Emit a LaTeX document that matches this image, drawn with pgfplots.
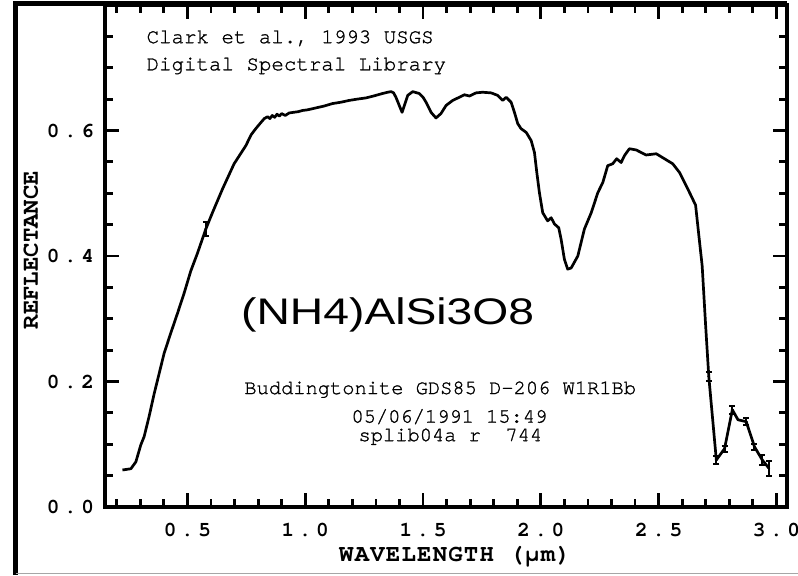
\documentclass[border=0pt]{standalone}
\usepackage{fontspec}
\setmonofont{TeX Gyre Cursor}
\newfontfamily\ticfont[LetterSpace=22]{TeX Gyre Cursor}
\newfontfamily\labfont[LetterSpace=5]{TeX Gyre Cursor}
\newfontfamily\annfont[FakeBold=1.2]{TeX Gyre Cursor}
\newfontfamily\bigfont{Liberation Sans}
\usepackage{pgfplots}
\pgfplotsset{compat=1.18}

\begin{document}
\begin{tikzpicture}
\path[use as bounding box] (-52.5pt,-34pt) rectangle (346.5pt,253.5pt);
\begin{axis}[
    at={(0,0)}, anchor=south west,
    scale only axis, width=341pt, height=251pt,
    xmin=0.15, xmax=3.045, ymin=0, ymax=0.8,
    xtick={0.5,1.0,1.5,2.0,2.5,3.0},
    xticklabels={0.5,1.0,1.5,2.0,2.5,3.0},
    ytick={0,0.2,0.4,0.6},
    yticklabels={0.0,0.2,0.4,0.6},
    minor xtick={0.2,0.3,...,3.0},
    minor ytick={0.05,0.1,...,0.8},
    major tick length=7pt, minor tick length=3.8pt,
    every tick/.style={black, line width=1.4pt},
    axis line style={line width=1.6pt},
    ticklabel style={font=\ticfont\bfseries\fontsize{10.5}{12}\selectfont},
    xticklabel style={yshift=-4.5pt},
    yticklabel style={xshift=-2pt},
    clip=false,
]
% spectrum
\addplot[black, line width=1.35pt, line join=round] coordinates {
(0.224,0.059) (0.26,0.061) (0.281,0.072) (0.302,0.099) (0.316,0.112) (0.337,0.144)
(0.359,0.181) (0.380,0.213) (0.401,0.245) (0.429,0.277) (0.458,0.309) (0.486,0.341)
(0.514,0.376) (0.543,0.405) (0.578,0.443) (0.606,0.469) (0.649,0.507) (0.698,0.547)
(0.748,0.576) (0.77,0.593) (0.79,0.603) (0.81,0.612) (0.826,0.619) (0.84,0.622)
(0.85,0.619) (0.86,0.624) (0.87,0.621) (0.88,0.626) (0.89,0.623) (0.90,0.627)
(0.915,0.624) (0.932,0.628) (0.95,0.629) (0.97,0.630) (0.989,0.632) (1.01,0.633)
(1.045,0.636) (1.08,0.639) (1.116,0.643) (1.15,0.645) (1.187,0.648) (1.22,0.650)
(1.258,0.652) (1.29,0.655) (1.328,0.659) (1.35,0.661) (1.364,0.662) (1.375,0.660)
(1.385,0.653) (1.399,0.640) (1.411,0.629) (1.421,0.640) (1.435,0.656) (1.456,0.662)
(1.484,0.659) (1.50,0.653) (1.513,0.645) (1.534,0.629) (1.555,0.620) (1.576,0.627)
(1.598,0.640) (1.626,0.648) (1.654,0.653) (1.675,0.657) (1.697,0.655) (1.725,0.660)
(1.753,0.661) (1.789,0.660) (1.817,0.656) (1.838,0.648) (1.853,0.653) (1.874,0.645)
(1.888,0.629) (1.902,0.611) (1.916,0.603) (1.938,0.597) (1.959,0.584) (1.973,0.565)
(1.983,0.533) (1.994,0.501) (2.008,0.469) (2.029,0.456) (2.044,0.461) (2.058,0.451)
(2.076,0.445) (2.086,0.427) (2.1,0.395) (2.114,0.379) (2.129,0.381) (2.157,0.400)
(2.185,0.443) (2.214,0.469) (2.242,0.501) (2.263,0.517) (2.284,0.544) (2.305,0.547)
(2.322,0.555) (2.341,0.549) (2.355,0.560) (2.376,0.571) (2.405,0.569) (2.447,0.561)
(2.49,0.563) (2.525,0.555) (2.56,0.547) (2.589,0.533) (2.617,0.512) (2.638,0.496)
(2.657,0.481) (2.671,0.432) (2.685,0.384) (2.699,0.293) (2.713,0.208) (2.745,0.075)
(2.78,0.093) (2.813,0.155) (2.837,0.139) (2.872,0.136) (2.907,0.096) (2.94,0.075)
(2.968,0.062)
};
% error bars
\addplot[black, only marks, mark=*, mark size=0.4pt,
    error bars/.cd, y dir=both, y explicit,
    error bar style={line width=1pt},
    error mark=|,
    error mark options={line width=1pt, mark size=1.5pt}]
coordinates {
(0.578,0.443) +- (0,0.011)
(2.713,0.208) +- (0,0.007)
(2.745,0.075) +- (0,0.006)
(2.78,0.093) +- (0,0.005)
(2.813,0.155) +- (0,0.006)
(2.872,0.136) +- (0,0.006)
(2.907,0.096) +- (0,0.005)
(2.94,0.075) +- (0,0.008)
(2.968,0.062) +- (0,0.012)
};
\node[anchor=west, inner sep=0pt, font=\annfont\fontsize{10.4}{12}\selectfont] at (axis cs:0.325,0.747) {Clark et al., 1993 USGS};
\node[anchor=west, inner sep=0pt, font=\annfont\fontsize{10.4}{12}\selectfont] at (axis cs:0.325,0.703) {Digital Spectral Library};
\node[anchor=base, xscale=1.25, font=\bigfont\fontsize{18.5}{22}\selectfont] at (axis cs:1.35,0.291) {(NH4)AlSi3O8};
\node[font=\annfont\fontsize{10.2}{12}\selectfont] at (axis cs:1.573,0.187) {Buddingtonite GDS85 D-206 W1R1Bb};
\node[font=\annfont\fontsize{10.2}{12}\selectfont] at (axis cs:1.612,0.144) {05/06/1991 15:49};
\node[font=\annfont\fontsize{10.2}{12}\selectfont] at (axis cs:1.616,0.112) {splib04a r\ \ 744};
\end{axis}
% axis titles
\node[font=\labfont\bfseries\fontsize{12}{14}\selectfont] at (175pt,-25pt) {WAVELENGTH (μm)};
\node[rotate=90, font=\ttfamily\bfseries\fontsize{12}{14}\selectfont] at (-37pt,128.5pt) {REFLECTANCE};
% outer frame
\draw[black, line width=2.4pt] (-44.6pt,-34pt) -- (-44.6pt,251.6pt) -- (341pt,251.6pt);
\draw[gray!70, line width=0.8pt] (-44.6pt,-33.2pt) -- (346.5pt,-33.2pt);
\end{tikzpicture}
\end{document}
